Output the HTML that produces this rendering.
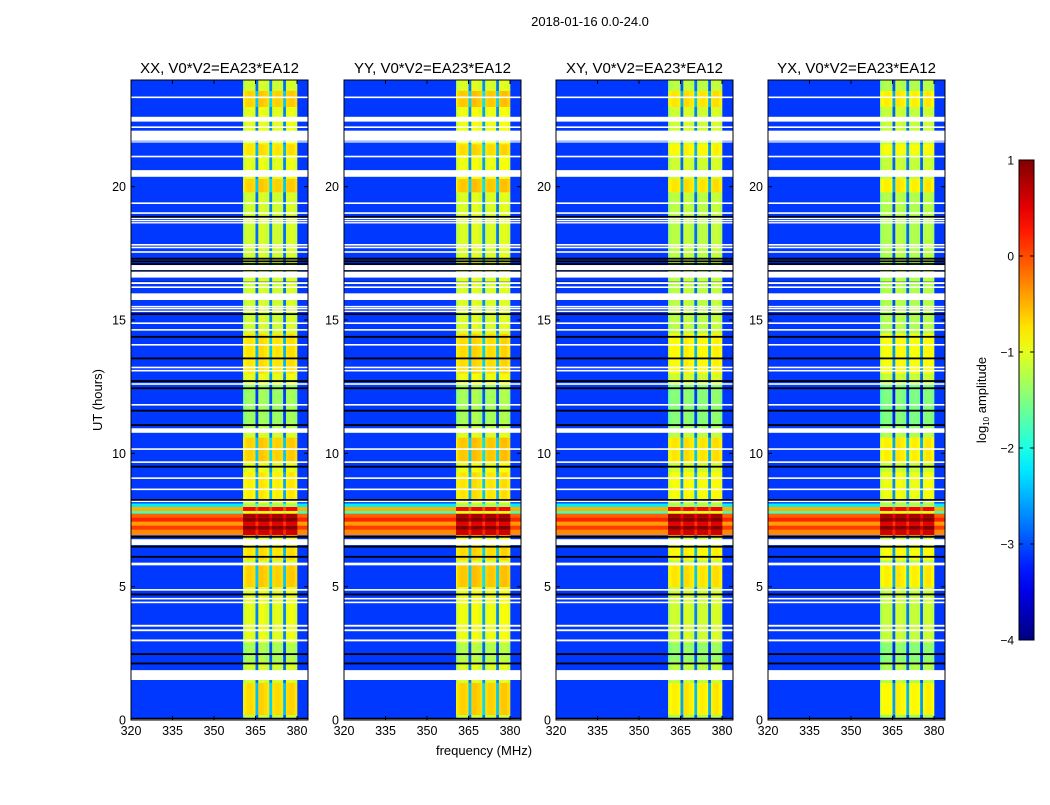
<!DOCTYPE html>
<html><head><meta charset="utf-8">
<style>
html,body{margin:0;padding:0;background:#fff;}
svg text{font-family:"Liberation Sans",sans-serif;fill:#000;}
</style></head>
<body>
<svg id="fig" width="1050" height="800" xmlns="http://www.w3.org/2000/svg">
<rect width="1050" height="800" fill="#fff"/>
<text x="590" y="26" font-size="13" text-anchor="middle">2018-01-16 0.0-24.0</text>
<text x="484" y="755" font-size="13" text-anchor="middle">frequency (MHz)</text>
<text x="102" y="400" font-size="13" text-anchor="middle" transform="rotate(-90 102 400)">UT (hours)</text>
<g id="panels"></g>
<g id="cbar"></g>
<text x="986" y="400" font-size="13" text-anchor="middle" transform="rotate(-90 986 400)">log<tspan font-size="8" dy="3">10</tspan><tspan dy="-3"> amplitude</tspan></text>
</svg>
<script>
// ---- data ----
const panelTitles = ["XX, V0*V2=EA23*EA12","YY, V0*V2=EA23*EA12","XY, V0*V2=EA23*EA12","YX, V0*V2=EA23*EA12"];
const panelBandOffset = [0, 0.05, -0.1, -0.15];
const xTicks = [320,335,350,365,380];
const yTicks = [0,5,10,15,20];
const cbarTicks = [1,0,-1,-2,-3,-4];
const backgroundLevel = -3.1;
// band channels: start freq (MHz) and offset relative to band level
const bandChanFreq = [360.5,361,362,363,364,365,366,367,368,369,370,371,372,373,374,375,376,377,378,379];
const bandChanOffset = [-0.2,0,0.05,0.05,0,-1.7,0.1,0.1,0.05,0,-1.6,0,0.05,0.05,0,-1.7,0.05,0.1,0.1,0];
// band level by time segment [startHour, endHour, level]
const bandSegStart = [0,0.2,1.4,2.2,2.9,5.0,5.9,6.0,6.5,8.3,9.3,9.7,10.6,11.0,12.6,13.0,14.5,19.8,20.3,21.2,21.6,23.0,23.6];
const bandSegEnd   = [0.2,1.4,2.2,2.9,5.0,5.9,6.0,6.5,8.3,9.3,9.7,10.6,11.0,12.6,13.0,14.5,19.8,20.3,21.2,21.6,23.0,23.6,24];
const bandSegLevel = [-1.25,-0.75,-1.15,-1.35,-1.05,-0.7,-1.15,-0.8,-1.05,-0.85,-1.05,-0.7,-1.15,-1.4,-1.05,-0.8,-1.15,-0.7,-1.05,-0.8,-1.05,-0.7,-1.15];
// RFI rows [start,end,level]
const rfiStart = [6.94,7.15,7.3,7.45,7.6,7.75,7.85,8.0];
const rfiEnd   = [7.15,7.3,7.45,7.6,7.75,7.85,8.0,8.12];
const rfiLevel = [-0.3,0.1,-0.4,0.2,-0.1,-1.8,-0.5,-2.2];
// flagged (white) intervals
const flagStart = [0.0,1.5,2.95,3.33,3.5,4.38,4.52,4.85,5.8,6.56,8.17,8.62,9.04,9.64,10.13,10.77,11.79,12.57,13.07,13.19,14.04,14.6,14.85,15.3,15.4,15.47,15.75,16.2,16.35,16.59,16.87,17.52,17.69,17.79,18.62,18.7,18.78,18.98,19.35,20.37,21.1,21.66,21.72,22.2,22.44,23.32];
const flagEnd   = [0.03,1.87,3.02,3.4,3.57,4.44,4.58,4.91,5.9,6.78,8.22,8.68,9.1,9.7,10.19,10.94,11.85,12.63,13.13,13.25,14.1,14.66,14.91,15.35,15.45,15.53,16.0,16.26,16.42,16.81,17.06,17.58,17.75,17.85,18.67,18.75,18.83,19.04,19.41,20.62,21.16,21.7,22.1,22.26,22.62,23.38];
// black rows (hour)
const blackRows = [0.05,2.12,2.47,4.71,6.12,6.5,6.87,8.25,9.5,11.06,11.6,12.44,12.71,13.56,14.37,15.22,16.4,16.86,17.1,17.2,17.3,18.87];

// ---- helpers ----
function jet(v){
  let t=(v+4)/5; t=Math.max(0,Math.min(1,t));
  const f=(x)=>Math.max(0,Math.min(1,x));
  const r=f(1.5-Math.abs(4*t-3)), g=f(1.5-Math.abs(4*t-2)), b=f(1.5-Math.abs(4*t-1));
  return `rgb(${Math.round(r*255)},${Math.round(g*255)},${Math.round(b*255)})`;
}
const NS="http://www.w3.org/2000/svg";
function el(tag,attrs,parent){const e=document.createElementNS(NS,tag);for(const k in attrs)e.setAttribute(k,attrs[k]);parent.appendChild(e);return e;}
const lefts=[131,344,556,768], W=177, TOP=80, H=640;
const pxPerMHz=2.767;
const panelsG=document.getElementById('panels');

lefts.forEach((L,p)=>{
  const xs=f=>L+(f-320)*pxPerMHz;
  const ys=h=>TOP+H-(h/24)*H;
  const chanW=c=>(c+1<bandChanFreq.length?bandChanFreq[c+1]:bandChanFreq[c]+1)-bandChanFreq[c];
  const g=el('g',{},panelsG);
  
  
  const bg=el('rect',{x:L,y:TOP,width:W,height:H,fill:jet(backgroundLevel)},g);
  
  
  for(let s=0;s<bandSegStart.length;s++){
    for(let c=0;c<bandChanFreq.length;c++){
      const v=bandSegLevel[s]+bandChanOffset[c]+panelBandOffset[p];
      const r=el('rect',{x:xs(bandChanFreq[c]),y:ys(bandSegEnd[s]),width:chanW(c)*pxPerMHz+0.3,height:ys(bandSegStart[s])-ys(bandSegEnd[s])+0.3,fill:jet(v)},g);
      
      
    }
  }
  for(let i=0;i<rfiStart.length;i++){
    const r=el('rect',{x:L,y:ys(rfiEnd[i]),width:W,height:ys(rfiStart[i])-ys(rfiEnd[i])+0.3,fill:jet(rfiLevel[i])},g);
    
    
    for(let c=0;c<bandChanFreq.length;c++){
      const v=Math.min(1,rfiLevel[i]+0.9+(bandChanOffset[c]<-1?-0.4:0));
      const rc=el('rect',{x:xs(bandChanFreq[c]),y:ys(rfiEnd[i]),width:chanW(c)*pxPerMHz+0.3,height:ys(rfiStart[i])-ys(rfiEnd[i])+0.3,fill:jet(v)},g);
      
      
    }
  }
  blackRows.forEach(h=>{
    const r=el('rect',{x:L,y:ys(h)-0.9,width:W,height:1.8,fill:'#000'},g);
    
    
  });
  for(let i=0;i<flagStart.length;i++){
    const r=el('rect',{x:L,y:ys(flagEnd[i]),width:W,height:Math.max(1.2,ys(flagStart[i])-ys(flagEnd[i])),fill:'#fff'},g);
    
    
  }
  const fr=el('rect',{x:L,y:TOP,width:W,height:H,fill:'none',stroke:'#000','stroke-width':1},g);
  
  
  const t=el('text',{x:L+W/2,y:TOP-7,'font-size':15,'text-anchor':'middle'},g);
  t.textContent=panelTitles[p];
  
  
  xTicks.forEach(f=>{
    const x=xs(f);
    el('line',{x1:x,x2:x,y1:TOP+H,y2:TOP+H-4,stroke:'#000'},g);
    el('line',{x1:x,x2:x,y1:TOP,y2:TOP+4,stroke:'#000'},g);
    const tx=el('text',{x:x,y:TOP+H+15,'font-size':12.5,'text-anchor':'middle'},g);
    tx.textContent=f;
    
    
  });
  yTicks.forEach(h=>{
    const y=ys(h);
    el('line',{x1:L,x2:L+4,y1:y,y2:y,stroke:'#000'},g);
    el('line',{x1:L+W,x2:L+W-4,y1:y,y2:y,stroke:'#000'},g);
    const ty=el('text',{x:L-5,y:y+4.5,'font-size':12.5,'text-anchor':'end'},g);
    ty.textContent=h;
    
    
  });
});

const cb=document.getElementById('cbar');
const CBX=1019,CBW=15,CBT=160,CBH=480;
const defs=el('defs',{},cb);
const lg=el('linearGradient',{id:'jetg',x1:0,y1:1,x2:0,y2:0},defs);
for(let i=0;i<=20;i++){el('stop',{offset:i/20,'stop-color':jet(-4+5*i/20)},lg);}
el('rect',{x:CBX,y:CBT,width:CBW,height:CBH,fill:'url(#jetg)',stroke:'#000'},cb);
cbarTicks.forEach(v=>{
  const y=CBT+(1-v)/5*CBH;
  el('line',{x1:CBX,x2:CBX+4,y1:y,y2:y,stroke:'#000'},cb);
  el('line',{x1:CBX+CBW,x2:CBX+CBW-4,y1:y,y2:y,stroke:'#000'},cb);
  const t=el('text',{x:1014,y:y+4.5,'font-size':12,'text-anchor':'end'},cb);
  t.textContent=v<0?'\u2212'+(-v):String(v);
  
  
});
</script>
</body></html>
